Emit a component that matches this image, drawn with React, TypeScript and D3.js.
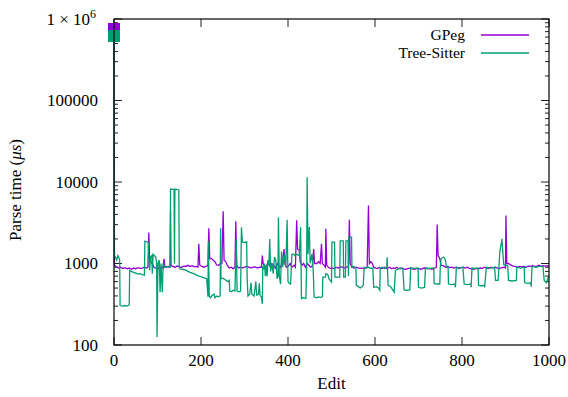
import React from 'react';
import * as d3 from 'd3';

// [edit, parse time in µs]
const gpeg: [number, number][] = [
  [0, 754000], [1, 950], [5, 920], [10, 880], [15, 900], [20, 870], [25, 890], [30, 860], [35, 880],
  [40, 850], [45, 880], [50, 860], [55, 890], [60, 870], [65, 880], [70, 900], [75, 880], [78, 900],
  [80, 2400], [82, 1100], [85, 1050], [88, 1000], [92, 900], [97, 870], [102, 880], [106, 860],
  [110, 900], [113, 870], [115, 1140], [117, 900], [122, 920], [127, 900], [129, 920], [130, 4500],
  [131, 950], [135, 920], [140, 900], [145, 930], [150, 910], [155, 900], [160, 930], [165, 920],
  [170, 950], [175, 920], [180, 940], [185, 910], [190, 920], [193, 900], [195, 1740], [197, 960],
  [202, 920], [207, 900], [212, 930], [216, 940], [218, 2700], [220, 1150], [224, 1150], [228, 1100],
  [232, 1050], [236, 960], [240, 950], [245, 1000], [248, 1000], [251, 4380], [253, 1100], [257, 1050],
  [261, 940], [265, 880], [270, 900], [274, 860], [278, 900], [280, 3300], [282, 960], [286, 880],
  [290, 900], [295, 880], [300, 900], [305, 920], [310, 900], [315, 880], [320, 900], [325, 910],
  [330, 880], [335, 900], [339, 900], [341, 1250], [343, 1000], [347, 900], [351, 950], [355, 1050],
  [359, 920], [363, 1000], [367, 950], [371, 880], [375, 1000], [379, 930], [383, 900], [387, 1050],
  [391, 1500], [393, 980], [397, 900], [401, 930], [405, 1000], [409, 900], [414, 950], [417, 900],
  [420, 3400], [422, 1500], [426, 1440], [428, 1050], [432, 950], [436, 1000], [440, 900], [444, 1000],
  [448, 950], [452, 900], [456, 930], [459, 1500], [461, 1000], [466, 1000], [470, 1050], [474, 1000],
  [477, 1740], [479, 1000], [483, 950], [486, 900], [487, 2660], [489, 950], [493, 900], [497, 870],
  [502, 880], [506, 860], [510, 900], [515, 880], [520, 910], [525, 900], [530, 880], [535, 900],
  [539, 920], [541, 3440], [543, 1000], [547, 900], [552, 880], [557, 900], [562, 880], [567, 880],
  [572, 870], [577, 880], [582, 900], [585, 5160], [587, 1000], [590, 1050], [594, 1000], [597, 900],
  [602, 880], [606, 870], [610, 900], [614, 870], [618, 880], [622, 900], [626, 870], [630, 880],
  [634, 900], [638, 860], [642, 880], [646, 870], [650, 900], [654, 870], [658, 860], [662, 880],
  [666, 860], [670, 850], [674, 860], [678, 870], [682, 880], [686, 860], [690, 850], [694, 860],
  [698, 870], [702, 860], [706, 850], [710, 870], [714, 880], [718, 870], [722, 860], [726, 870],
  [730, 850], [734, 860], [738, 880], [741, 900], [743, 3000], [745, 1250], [749, 1150], [752, 950],
  [757, 940], [762, 900], [767, 920], [772, 890], [777, 900], [782, 880], [787, 900], [792, 870],
  [797, 890], [802, 900], [807, 880], [812, 900], [817, 870], [822, 860], [827, 850], [832, 870],
  [837, 860], [842, 880], [847, 870], [852, 900], [857, 880], [862, 870], [867, 900], [872, 880],
  [877, 900], [882, 880], [887, 870], [892, 890], [897, 900], [900, 880], [901, 3880], [903, 1000],
  [907, 1000], [912, 960], [917, 930], [922, 920], [927, 900], [932, 920], [937, 910], [942, 920],
  [947, 900], [952, 930], [957, 920], [962, 940], [967, 920], [972, 930], [977, 950], [982, 920],
  [987, 940], [992, 930], [997, 940], [1000, 920],
];

const treeSitter: [number, number][] = [
  [0, 618000], [1, 1250], [3, 1200], [6, 1100], [9, 1250], [12, 1150], [13, 1100], [14, 305],
  [20, 300], [25, 305], [30, 300], [35, 310], [36, 820], [40, 800], [45, 780], [50, 760], [55, 740],
  [60, 750], [65, 730], [70, 720], [71, 1880], [75, 1850], [79, 1800], [80, 1200], [82, 820],
  [84, 1200], [87, 1250], [88, 750], [90, 1300], [93, 1250], [96, 1200], [98, 1000], [99, 125],
  [101, 1000], [104, 1100], [106, 445], [108, 1000], [111, 445], [113, 1000], [116, 900], [120, 900],
  [125, 920], [129, 900], [130, 8200], [138, 8100], [139, 1000], [140, 8200], [149, 8000], [150, 950],
  [152, 860], [157, 850], [165, 830], [170, 800], [175, 780], [180, 760], [185, 740], [190, 720],
  [195, 700], [200, 690], [205, 670], [210, 660], [213, 650], [216, 390], [217, 1850], [219, 400],
  [222, 380], [226, 410], [230, 420], [232, 380], [236, 400], [240, 390], [244, 400], [245, 2700],
  [246, 650], [250, 660], [254, 640], [258, 620], [262, 600], [265, 620], [266, 460], [270, 450],
  [274, 470], [278, 460], [281, 2000], [283, 460], [287, 450], [291, 460], [293, 2790], [295, 1850],
  [300, 1800], [305, 1850], [306, 680], [308, 400], [312, 420], [315, 580], [317, 420], [322, 400],
  [326, 600], [328, 410], [332, 420], [334, 570], [336, 400], [339, 390], [341, 320], [342, 920],
  [344, 850], [346, 1000], [348, 700], [350, 950], [352, 700], [354, 1100], [356, 950], [358, 2000],
  [360, 800], [363, 1000], [366, 750], [369, 1200], [372, 1100], [375, 650], [377, 700], [378, 3700],
  [380, 700], [383, 560], [385, 1400], [388, 900], [392, 1300], [395, 900], [398, 3440], [400, 600],
  [403, 570], [406, 560], [409, 1300], [413, 1300], [416, 1250], [420, 1300], [426, 1250], [429, 2790],
  [431, 370], [435, 380], [441, 370], [443, 1000], [444, 11400], [446, 1300], [449, 2800], [451, 1000],
  [455, 1300], [458, 820], [460, 390], [465, 380], [470, 390], [475, 385], [479, 390], [480, 680],
  [486, 680], [487, 750], [491, 740], [494, 650], [500, 590], [501, 1830], [507, 1830], [508, 680],
  [519, 680], [520, 1900], [527, 1900], [528, 680], [532, 680], [533, 1900], [538, 1900], [539, 700],
  [540, 2100], [546, 2100], [547, 900], [551, 920], [556, 880], [557, 540], [562, 520], [566, 500],
  [570, 520], [573, 540], [575, 900], [580, 880], [585, 900], [590, 870], [595, 880], [597, 510],
  [603, 520], [608, 500], [611, 470], [612, 880], [618, 900], [622, 870], [627, 900], [628, 1195],
  [630, 540], [636, 520], [644, 445], [647, 820], [652, 850], [658, 880], [664, 860], [667, 475],
  [673, 470], [680, 475], [682, 880], [690, 870], [699, 880], [700, 510], [707, 500], [714, 510],
  [716, 880], [725, 870], [735, 880], [736, 570], [742, 560], [749, 560], [750, 900], [752, 1150],
  [758, 1200], [762, 1100], [764, 900], [768, 900], [769, 560], [776, 550], [783, 560], [785, 510],
  [787, 900], [795, 880], [802, 900], [805, 560], [812, 550], [820, 560], [821, 510], [823, 880],
  [830, 870], [837, 880], [838, 540], [845, 530], [851, 540], [852, 510], [856, 900], [865, 880],
  [875, 900], [877, 620], [883, 620], [887, 1400], [892, 2010], [893, 1600], [896, 970], [900, 950],
  [905, 950], [907, 620], [915, 610], [925, 620], [926, 900], [935, 880], [943, 900], [944, 580],
  [952, 570], [958, 580], [959, 520], [961, 920], [970, 900], [978, 920], [986, 920], [989, 620],
  [994, 580], [997, 650], [1000, 700],
];

const xTicks = [0, 200, 400, 600, 800, 1000];
const yMajor = [100, 1000, 10000, 100000, 1000000];
const yTickLabels = ['100', '1000', '10000', '100000', '1 × 10'];

const series = [
  { name: 'GPeg', data: gpeg, color: '#9400d3' },
  { name: 'Tree-Sitter', data: treeSitter, color: '#009e73' },
];

const W = 568, H = 397;
const left = 114, right = 549, top = 19, bottom = 345;
const font = '"Liberation Serif", "Times New Roman", serif';

export default function App() {
  const x = d3.scaleLinear().domain([0, 1000]).range([left, right]);
  const y = d3.scaleLog().domain([100, 1e6]).range([bottom, top]);
  const line = d3.line<[number, number]>().x(d => x(d[0])).y(d => y(d[1]));

  const minor: number[] = [];
  for (let e = 100; e < 1e6; e *= 10) for (let k = 2; k <= 9; k++) minor.push(e * k);

  return (
    <svg width={W} height={H} style={{ position: 'absolute', left: 0, top: 0, background: '#fff' }}
      fontFamily={font} fontSize={17}>
      {/* ticks */}
      <g stroke="#222" strokeWidth={1}>
        {yMajor.map(v => (
          <g key={'ym' + v}>
            <line x1={left} x2={left + 8} y1={y(v)} y2={y(v)} />
            <line x1={right} x2={right - 8} y1={y(v)} y2={y(v)} />
          </g>
        ))}
        {minor.map(v => (
          <g key={'yn' + v}>
            <line x1={left} x2={left + 4} y1={y(v)} y2={y(v)} />
            <line x1={right} x2={right - 4} y1={y(v)} y2={y(v)} />
          </g>
        ))}
        {xTicks.map(t => (
          <g key={'x' + t}>
            <line x1={x(t)} x2={x(t)} y1={bottom} y2={bottom - 8} />
            <line x1={x(t)} x2={x(t)} y1={top} y2={top + 8} />
          </g>
        ))}
      </g>

      {/* series */}
      {series.map(s => (
        <path key={s.name} d={line(s.data) || ''} fill="none" stroke={s.color} strokeWidth={1.3} />
      ))}
      {series.map(s => (
        <rect key={'m' + s.name} x={x(s.data[0][0]) - 6} y={y(s.data[0][1]) - 6} width={12} height={12} fill={s.color} />
      ))}

      <rect x={left} y={top} width={right - left} height={bottom - top} fill="none" stroke="#000" strokeWidth={1.2} />

      {/* tick labels */}
      {yMajor.map((v, i) => (
        <text key={'yl' + v} x={i === 4 ? 96 : 98} y={y(v)} dy="0.33em" textAnchor="end">
          {yTickLabels[i]}
          {i === 4 && <tspan dy={-7} fontSize={12}>6</tspan>}
        </text>
      ))}
      {xTicks.map(t => (
        <text key={'xl' + t} x={x(t)} y={366} textAnchor="middle">{t}</text>
      ))}

      <text x={(left + right) / 2} y={389} textAnchor="middle">Edit</text>
      <text transform={`translate(21, ${(top + bottom) / 2 + 8}) rotate(-90)`} textAnchor="middle">
        Parse time (<tspan fontStyle="italic">μs</tspan>)
      </text>

      {/* legend */}
      {series.map((s, i) => (
        <g key={'lg' + s.name}>
          <text x={465} y={40 + i * 18} textAnchor="end" fontSize={15.5}>{s.name}</text>
          <line x1={481} x2={529} y1={35 + i * 18} y2={35 + i * 18} stroke={s.color} strokeWidth={1.3} />
        </g>
      ))}
    </svg>
  );
}
